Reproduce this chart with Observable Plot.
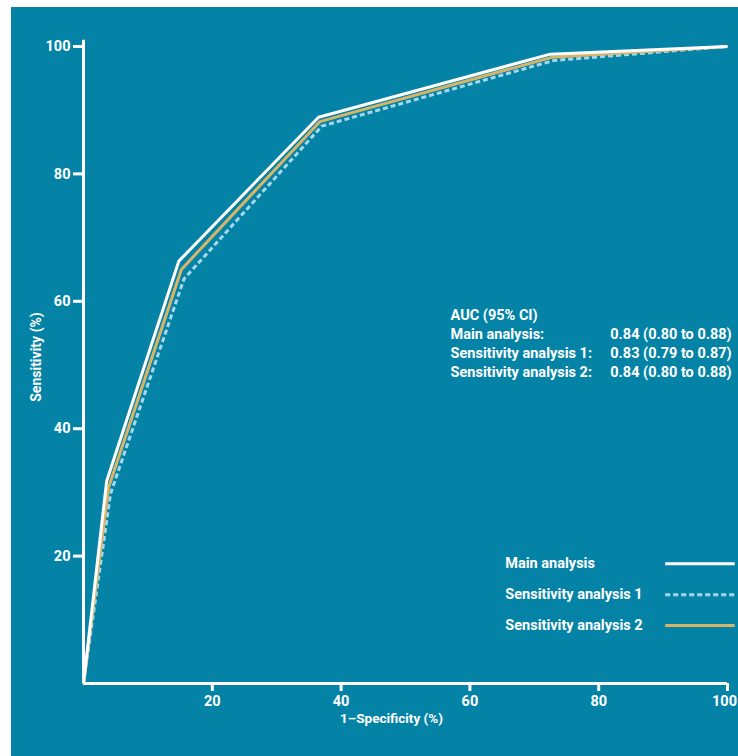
<!DOCTYPE html>
<html>
<head>
<meta charset="utf-8">
<script src="https://cdn.jsdelivr.net/npm/d3@7"></script>
<script src="https://cdn.jsdelivr.net/npm/@observablehq/plot@0.6"></script>
<style>
  html, body { margin: 0; padding: 0; background: #ffffff; }
  #wrap { position: absolute; left: 11px; top: 7px; width: 727px; height: 749px; background: #0583a6; }
  svg { display: block; }
</style>
</head>
<body>
<div id="wrap"></div>
<script>
// ---- data ----
const series = ["Main analysis", "Sensitivity analysis 1", "Sensitivity analysis 2"];
const fpr = {
  "Main analysis":          [0, 3.6, 14.8, 36.5, 72.5, 100],
  "Sensitivity analysis 1": [0, 4.2, 15.6, 37.0, 73.0, 100],
  "Sensitivity analysis 2": [0, 3.9, 15.2, 36.7, 72.7, 100]
};
const tpr = {
  "Main analysis":          [0, 31.8, 66.3, 88.9, 98.8, 100],
  "Sensitivity analysis 1": [0, 29.8, 63.5, 87.5, 97.8, 100],
  "Sensitivity analysis 2": [0, 30.8, 65.0, 88.2, 98.3, 100]
};
const xTicks = [20, 40, 60, 80, 100];
const yTicks = [20, 40, 60, 80, 100];
const aucTitle = "AUC (95% CI)";
const aucLabels = ["Main analysis:", "Sensitivity analysis 1:", "Sensitivity analysis 2:"];
const aucValues = ["0.84 (0.80 to 0.88)", "0.83 (0.79 to 0.87)", "0.84 (0.80 to 0.88)"];

// ---- styles ----
const colors = {"Main analysis": "#ffffff", "Sensitivity analysis 1": "#a6d8ec", "Sensitivity analysis 2": "#d8b468"};
const dashes = {"Main analysis": null, "Sensitivity analysis 1": "5,3", "Sensitivity analysis 2": null};
const drawOrder = ["Sensitivity analysis 1", "Sensitivity analysis 2", "Main analysis"];
const font = "Roboto, 'Liberation Sans', sans-serif";

const rows = [];
for (const s of series) fpr[s].forEach((x, i) => rows.push({series: s, x, y: tpr[s][i]}));

// layout (data units) for annotation blocks
const aucX0 = 57.0, aucX1 = 81.8, aucY0 = 57.8, aucStep = 3.0;
const aucRows = [{t: aucTitle, v: "", i: 0}].concat(aucLabels.map((t, i) => ({t, v: aucValues[i], i: i + 1})));
const legX = 65.5, legL1 = 90.4, legL2 = 101.2, legY0 = 18.8, legStep = 4.85;
const legRows = series.map((s, i) => ({s, i}));

const lineMarks = drawOrder.map(s => Plot.line(rows.filter(d => d.series === s), {
  x: "x", y: "y", stroke: colors[s], strokeWidth: 3, strokeDasharray: dashes[s],
  strokeLinejoin: "miter", strokeLinecap: "butt"
}));

const legMarks = legRows.map(({s, i}) => Plot.ruleY([legY0 - i * legStep], {
  x1: legL1, x2: legL2, stroke: colors[s], strokeWidth: 3, strokeDasharray: dashes[s]
}));

const xAxisStyle = {tickSize: 8, tickPadding: 4, tickFormat: d => d, stroke: "#ffffff", strokeWidth: 3,
  fill: "#ffffff", fontSize: 14.5, fontWeight: "bold", label: null};
const lastX = xTicks[xTicks.length - 1];

const chart = Plot.plot({
  width: 727, height: 749,
  marginLeft: 72, marginRight: 11, marginTop: 39, marginBottom: 73,
  style: {background: "transparent", color: "#ffffff", fontFamily: font},
  x: {domain: [0, 100]},
  y: {domain: [0, 100]},
  marks: [
    Plot.axisX({...xAxisStyle, ticks: xTicks.slice(0, -1)}),
    Plot.axisX({...xAxisStyle, ticks: [lastX], text: null}),
    Plot.axisX({...xAxisStyle, ticks: [lastX], tickSize: 0, tickPadding: 12, dx: -3}),
    Plot.axisY({ticks: yTicks, tickSize: 10, tickPadding: 3, tickFormat: d => d, stroke: "#ffffff", strokeWidth: 3,
      fill: "#ffffff", fontSize: 14.5, fontWeight: "bold", label: null}),
    Plot.ruleX([0], {y1: 0, y2: 101, stroke: "#ffffff", strokeWidth: 3}),
    Plot.ruleY([0], {x1: 0, x2: 100, stroke: "#ffffff", strokeWidth: 3}),
    ...lineMarks,
    Plot.text(["Sensitivity (%)"], {frameAnchor: "left", textAnchor: "middle", dx: -47, dy: -8, rotate: -90,
      fill: "#ffffff", fontSize: 14, fontWeight: "bold", letterSpacing: 0.5}),
    Plot.text(["1–Specificity (%)"], {frameAnchor: "bottom", dx: -14, dy: 39, fill: "#ffffff",
      fontSize: 13.5, fontWeight: "bold"}),
    Plot.text(aucRows, {x: aucX0, y: d => aucY0 - d.i * aucStep, text: "t", textAnchor: "start",
      fill: "#ffffff", fontSize: 14.5, fontWeight: "bold"}),
    Plot.text(aucRows, {x: aucX1, y: d => aucY0 - d.i * aucStep, text: "v", textAnchor: "start",
      fill: "#ffffff", fontSize: 14.5, fontWeight: "bold"}),
    ...legMarks,
    Plot.text(legRows, {x: legX, y: d => legY0 - d.i * legStep, text: "s", textAnchor: "start",
      fill: "#ffffff", fontSize: 14.5, fontWeight: "bold"})
  ]
});
document.getElementById("wrap").appendChild(chart);
</script>
</body>
</html>
